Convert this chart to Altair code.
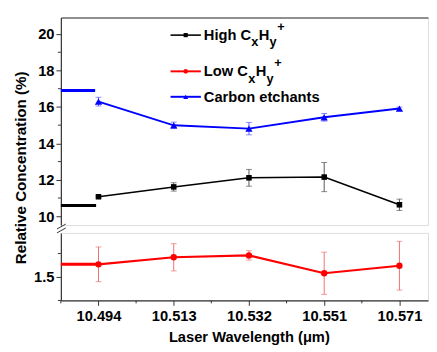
import altair as alt
import pandas as pd

# ---------------- data ----------------
wavelengths = ["10.494", "10.513", "10.532", "10.551", "10.571"]
high_vals = [11.07, 11.61, 12.11, 12.15, 10.63]
high_err = [0.05, 0.23, 0.46, 0.80, 0.31]
low_vals = [1.527, 1.542, 1.546, 1.508, 1.524]
low_err = [0.037, 0.029, 0.010, 0.045, 0.052]
etch_vals = [16.29, 14.99, 14.81, 15.43, 15.91]
etch_err = [0.24, 0.18, 0.34, 0.21, 0.08]
baseline_high = 10.59
baseline_low = 1.527
baseline_etch = 16.90

upper_major = [10, 12, 14, 16, 18, 20]
upper_minor = [11, 13, 15, 17, 19]
lower_major = [1.5]
lower_minor = [1.45, 1.55]
x_minor = [-0.5, 0.5, 1.5, 2.5, 3.5]

idx = list(range(len(wavelengths)))
df = pd.DataFrame({
    "idx": idx,
    "high": high_vals,
    "high_lo": [v - e for v, e in zip(high_vals, high_err)],
    "high_hi": [v + e for v, e in zip(high_vals, high_err)],
    "low": low_vals,
    "low_lo": [v - e for v, e in zip(low_vals, low_err)],
    "low_hi": [v + e for v, e in zip(low_vals, low_err)],
    "etch": etch_vals,
    "etch_lo": [v - e for v, e in zip(etch_vals, etch_err)],
    "etch_hi": [v + e for v, e in zip(etch_vals, etch_err)],
})
one = pd.DataFrame({"k": [0]})

FONT = "Liberation Sans"
AX = "#333333"
W, H_UP, H_LOW = 375, 212, 69
BLACK, RED, BLUE = "#000000", "#ff0000", "#0000ff"

xscale = alt.Scale(domain=[-0.5, 4.38], nice=False, zero=False)
up_scale = alt.Scale(domain=[9.516, 20.91], nice=False, zero=False)
low_scale = alt.Scale(domain=[1.45, 1.594], nice=False, zero=False)

label_expr = "[" + ",".join("'%s'" % w for w in wavelengths) + "][datum.value]"

x_top_axis = alt.Axis(orient="top", labels=False, ticks=False, title=None, grid=False,
                      domainColor=AX, domainWidth=1.2)
x_bottom_axis = alt.Axis(values=idx, labelExpr=label_expr, tickSize=5, tickColor=AX,
                         domainColor=AX, domainWidth=1.2, labelFont=FONT, labelFontSize=15,
                         labelFontWeight="bold", labelColor="black", labelPadding=3,
                         title="Laser Wavelength (μm)", titleFont=FONT, titleFontSize=15,
                         titleFontWeight="bold", titleColor="black", titleX=192, titleY=30,
                         titleBaseline="top", grid=False)
y_up_axis = alt.Axis(values=upper_major, format="d", tickSize=5, tickColor=AX, domainColor=AX,
                     domainWidth=1.2, labelFont=FONT, labelFontSize=15, labelFontWeight="bold",
                     labelColor="black", labelPadding=2, grid=False,
                     title="Relative Concentration (%)", titleFont=FONT, titleFontSize=15.5,
                     titleFontWeight="bold", titleColor="black", titleX=-33, titleY=153,
                     titleBaseline="bottom")
y_low_axis = alt.Axis(values=lower_major, format=".1f", tickSize=5, tickColor=AX, domainColor=AX,
                      domainWidth=1.2, labelFont=FONT, labelFontSize=15, labelFontWeight="bold",
                      labelColor="black", labelPadding=2, grid=False, title=None)

xu = alt.X("idx:Q", scale=xscale, axis=x_top_axis)
xl = alt.X("idx:Q", scale=xscale, axis=x_bottom_axis)


def series(field, yscale, yaxis, xenc, color, ecolor, shape, size, lw):
    base = alt.Chart(df)
    y = alt.Y(field + ":Q", scale=yscale, axis=yaxis)
    ylo = alt.Y(field + "_lo:Q", scale=yscale, axis=yaxis)
    yhi = alt.Y(field + "_hi:Q", scale=yscale, axis=yaxis)
    line = base.mark_line(color=color, strokeWidth=lw).encode(x=xenc, y=y)
    bar = base.mark_rule(color=ecolor, strokeWidth=1).encode(
        x=xenc, y=ylo, y2=alt.Y2(field + "_hi:Q"))
    cap_lo = base.mark_tick(color=ecolor, orient="horizontal", size=6, thickness=1).encode(x=xenc, y=ylo)
    cap_hi = base.mark_tick(color=ecolor, orient="horizontal", size=6, thickness=1).encode(x=xenc, y=yhi)
    pts = base.mark_point(color=color, filled=True, opacity=1, shape=shape, size=size).encode(x=xenc, y=y)
    return [line, bar, cap_lo, cap_hi, pts]


def baseline(value, yscale, yaxis, color, x2):
    return alt.Chart(pd.DataFrame({"v": [value]})).mark_rule(color=color, strokeWidth=3).encode(
        y=alt.Y("v:Q", scale=yscale, axis=yaxis), x=alt.value(0), x2=alt.value(x2))


def minor_y(vals, yscale, yaxis):
    return alt.Chart(pd.DataFrame({"v": vals})).mark_rule(color=AX, strokeWidth=1).encode(
        y=alt.Y("v:Q", scale=yscale, axis=yaxis), x=alt.value(-3), x2=alt.value(0))


def txt(s, x, y, size=15):
    return alt.Chart(one).mark_text(align="left", baseline="alphabetic", font=FONT, fontSize=size,
                                    fontWeight="bold", color="black").encode(
        x=alt.value(x), y=alt.value(y), text=alt.value(s))


def legend_sym(y, color, shape, size, lw):
    ln = alt.Chart(one).mark_rule(color=color, strokeWidth=lw).encode(
        x=alt.value(112), x2=alt.value(143), y=alt.value(y))
    pt = alt.Chart(one).mark_point(color=color, filled=True, opacity=1, shape=shape, size=size).encode(
        x=alt.value(127.5), y=alt.value(y))
    return [ln, pt]


upper_layers = (
    series("etch", up_scale, y_up_axis, xu, BLUE, "#5a5aff", "triangle-up", 55, 2)
    + series("high", up_scale, y_up_axis, xu, BLACK, "#555555", "square", 32, 1.6)
    + [baseline(baseline_high, up_scale, y_up_axis, BLACK, 36),
       baseline(baseline_etch, up_scale, y_up_axis, BLUE, 35),
       minor_y(upper_minor, up_scale, y_up_axis)]
    + legend_sym(18, BLACK, "square", 18, 1.6)
    + legend_sym(55, RED, "circle", 22, 2)
    + legend_sym(81, BLUE, "triangle-up", 26, 2)
    + [txt("High C", 146, 23), txt("x", 194.5, 29.5, 13), txt("H", 202, 23), txt("y", 213, 29.5, 13),
       txt("+", 221, 13.5, 13),
       txt("Low C", 146, 60), txt("x", 191.5, 66.5, 13), txt("H", 199, 60), txt("y", 210, 66.5, 13),
       txt("+", 218, 50.5, 13),
       txt("Carbon etchants", 146, 86)]
)
upper = alt.layer(*upper_layers).properties(width=W, height=H_UP)

x_minor_layer = alt.Chart(pd.DataFrame({"idx": x_minor})).mark_rule(color=AX, strokeWidth=1).encode(
    x=xl, y=alt.value(H_LOW), y2=alt.value(H_LOW + 3))

breaks = [
    alt.Chart(one).mark_rule(color=AX, strokeWidth=1).encode(
        x=alt.value(-4), y=alt.value(-4), x2=alt.value(5), y2=alt.value(-9)),
    alt.Chart(one).mark_rule(color=AX, strokeWidth=1).encode(
        x=alt.value(-4), y=alt.value(0), x2=alt.value(5), y2=alt.value(-5)),
]

lower_layers = (
    [baseline(baseline_low, low_scale, y_low_axis, RED, 39)]
    + series("low", low_scale, y_low_axis, xl, RED, "#f07070", "circle", 42, 2.2)
    + [minor_y(lower_minor, low_scale, y_low_axis), x_minor_layer]
    + breaks
)
lower = alt.layer(*lower_layers).properties(width=W, height=H_LOW)

chart = alt.vconcat(upper, lower, spacing=8, bounds="flush").properties(
    padding={"left": 5, "top": 5, "right": 0, "bottom": 5}
).configure_view(stroke=None).configure(background="white")

chart.save("out.html", embed_options={"renderer": "svg", "actions": False})
